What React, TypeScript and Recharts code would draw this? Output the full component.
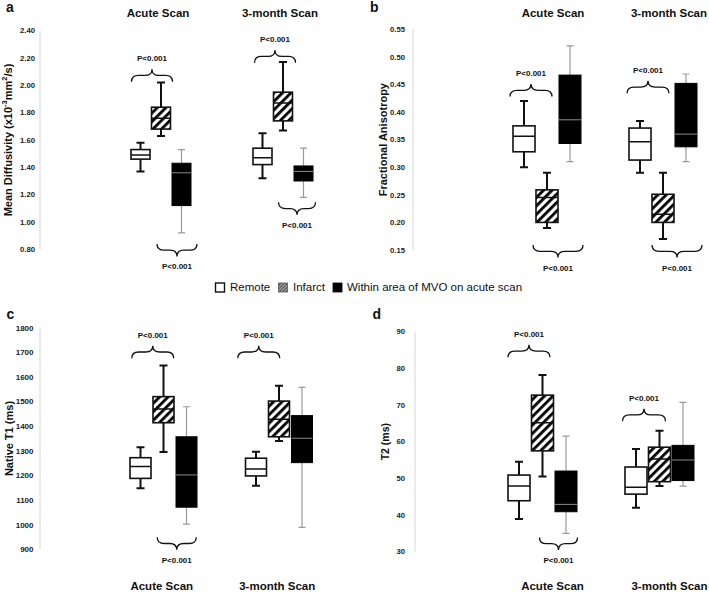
import React from 'react';
import { BarChart, Bar, XAxis, YAxis, ReferenceDot } from 'recharts';

const FONT = '"Liberation Sans", Arial, Helvetica, sans-serif';

// categories
const scans = ['Acute Scan', '3-month Scan'];
const legendLabels = ['Remote', 'Infarct', 'Within area of MVO on acute scan'];
const pLabel = 'P<0.001';

// box values per scan: [min, q1, median, q3, max]
// a) Mean diffusivity
const mdRemote = [[1.37, 1.46, 1.49, 1.53, 1.58], [1.32, 1.42, 1.47, 1.54, 1.65]];
const mdInfarct = [[1.63, 1.68, 1.76, 1.84, 2.02], [1.67, 1.74, 1.87, 1.95, 2.17]];
const mdMvo = [[0.92, 1.12, 1.36, 1.43, 1.53], [1.18, 1.3, 1.37, 1.41, 1.54]];
const mdTicks = [0.8, 1.0, 1.2, 1.4, 1.6, 1.8, 2.0, 2.2, 2.4];

// b) Fractional anisotropy
const faRemote = [[0.3, 0.328, 0.356, 0.375, 0.42], [0.29, 0.313, 0.346, 0.371, 0.384]];
const faInfarct = [[0.19, 0.2, 0.245, 0.259, 0.29], [0.17, 0.2, 0.215, 0.251, 0.29]];
const faMvo = [[0.31, 0.343, 0.386, 0.467, 0.52], [0.31, 0.337, 0.36, 0.452, 0.469]];
const faTicks = [0.15, 0.2, 0.25, 0.3, 0.35, 0.4, 0.45, 0.5, 0.55];

// c) Native T1
const t1Remote = [[1148, 1188, 1236, 1272, 1314], [1158, 1198, 1226, 1270, 1296]];
const t1Infarct = [[1295, 1414, 1470, 1520, 1646], [1340, 1357, 1428, 1502, 1564]];
const t1Mvo = [[1002, 1071, 1202, 1357, 1479], [989, 1252, 1351, 1443, 1558]];
const t1Ticks = [900, 1000, 1100, 1200, 1300, 1400, 1500, 1600, 1700, 1800];

// d) T2
const t2Remote = [[38.9, 43.9, 47.9, 50.9, 54.5], [42.0, 45.7, 47.6, 53.1, 58.0]];
const t2Infarct = [[50.5, 57.5, 65.2, 72.7, 78.2], [47.9, 49.1, 55.3, 58.5, 63.0]];
const t2Mvo = [[35.0, 40.9, 42.9, 52.0, 61.5], [47.9, 49.4, 55.0, 59.0, 70.7]];
const t2Ticks = [30, 40, 50, 60, 70, 80, 90];

// significance brackets: [scan index, value at bracket ends]
const mdSig = [[0, 2.027], [1, 2.166], [0, 0.839], [1, 1.144]];
const faSig = [[0, 0.428], [1, 0.434], [0, 0.159], [1, 0.159]];
const t1Sig = [[0, 1676], [1, 1676], [0, 949]];
const t2Sig = [[0, 83.0], [1, 65.6], [0, 33.9]];

function buildRows(remote: number[][], infarct: number[][], mvo: number[][]) {
  return scans.map((scan, i) => ({ scan, remote: remote[i], infarct: infarct[i], mvo: mvo[i] }));
}

const STYLES: any = {
  remote: { fill: '#ffffff', stroke: '#111', boxW: 1.6, med: '#111', medW: 1.5, wh: '#111', whW: 2, cap: 8 },
  infarct: { fill: 'url(#hatch)', stroke: '#111', boxW: 1.6, med: '#111', medW: 1.5, wh: '#111', whW: 2, cap: 8 },
  mvo: { fill: '#000', stroke: '#000', boxW: 1, med: '#8a8a8a', medW: 1, wh: '#9a9a9a', whW: 1.2, cap: 7 },
};

function boxShape(key: string) {
  const st = STYLES[key];
  return (props: any) => {
    const { x, y, width, height, payload } = props;
    const v = payload && payload[key];
    if (!v || x == null) return <g />;
    const [mn, q1, md, q3, mx] = v;
    const top = Math.min(y, y + height);
    const h = Math.abs(height);
    const k = h / (q3 - q1);
    const py = (val: number) => top + h - (val - q1) * k;
    const cx = x + width / 2;
    return (
      <g>
        <line x1={cx} x2={cx} y1={py(mx)} y2={top} stroke={st.wh} strokeWidth={st.whW} />
        <line x1={cx} x2={cx} y1={top + h} y2={py(mn)} stroke={st.wh} strokeWidth={st.whW} />
        <line x1={cx - st.cap / 2} x2={cx + st.cap / 2} y1={py(mx)} y2={py(mx)} stroke={st.wh} strokeWidth={st.whW} />
        <line x1={cx - st.cap / 2} x2={cx + st.cap / 2} y1={py(mn)} y2={py(mn)} stroke={st.wh} strokeWidth={st.whW} />
        <rect x={x} y={top} width={width} height={h} fill={st.fill} stroke={st.stroke} strokeWidth={st.boxW} />
        <line x1={x} x2={x + width} y1={py(md)} y2={py(md)} stroke={st.med} strokeWidth={st.medW} />
      </g>
    );
  };
}

function Brace(props: any) {
  const { cx, cy, dx, w, dir } = props;
  if (cx == null || cy == null || isNaN(cx) || isNaN(cy)) return <g />;
  const s = dir === 'up' ? -1 : 1;
  const xc = cx + dx;
  const x0 = xc - w / 2;
  const x1 = xc + w / 2;
  const h = 12.5;
  const m = cy + (s * h) / 2;
  const tip = cy + s * h;
  const q = 7;
  const d = `M${x0},${cy} Q${x0},${m} ${x0 + q},${m} L${xc - q},${m} Q${xc},${m} ${xc},${tip} Q${xc},${m} ${xc + q},${m} L${x1 - q},${m} Q${x1},${m} ${x1},${cy}`;
  return (
    <g>
      <path d={d} fill="none" stroke="#111" strokeWidth={1.3} />
      <text x={xc} y={tip + s * 10.5} textAnchor="middle" dominantBaseline="central" fontSize={8} fontWeight={700} fontFamily={FONT} fill="#111">
        {pLabel}
      </text>
    </g>
  );
}

function mdTitle(size: number) {
  return (
    <>
      <tspan>Mean Diffusivity (x10</tspan>
      <tspan dy={-4} fontSize={size * 0.68}>-3</tspan>
      <tspan dy={4}>mm</tspan>
      <tspan dy={-4} fontSize={size * 0.68}>2</tspan>
      <tspan dy={4}>/s)</tspan>
    </>
  );
}

const panels: any[] = [
  {
    id: 'a', left: 0, top: 0, width: 344, height: 280,
    margin: { top: 0, right: 0, bottom: 30.7, left: 0 },
    xOrient: 'top', xHeight: 30.7, padLeft: 60, yWidth: 40,
    domain: [0.8, 2.4], ticks: mdTicks, fmt: (v: number) => v.toFixed(2), tickMargin: 5, tickFont: 7.7,
    barSize: 19, barGap: 1.5, tickDy: -14, tickDx: -3,
    titleX: 8, titleSize: 11, title: mdTitle(11),
    data: buildRows(mdRemote, mdInfarct, mdMvo),
    sig: mdSig,
    braces: [
      { dir: 'up', dx: -9, w: 41 }, { dir: 'up', dx: -8, w: 41 },
      { dir: 'down', dx: 16, w: 40 }, { dir: 'down', dx: 14, w: 37 },
    ],
  },
  {
    id: 'b', left: 350, top: 0, width: 371, height: 280,
    margin: { top: 0, right: 0, bottom: 30, left: 0 },
    xOrient: 'top', xHeight: 29.3, padLeft: 76, yWidth: 63,
    domain: [0.15, 0.55], ticks: faTicks, fmt: (v: number) => v.toFixed(2), tickMargin: 8, tickFont: 7.7,
    barSize: 22, barGap: 1, tickDy: -12.6, tickDx: 6,
    titleX: 33, titleSize: 11, title: 'Fractional Anisotropy',
    data: buildRows(faRemote, faInfarct, faMvo),
    sig: faSig,
    braces: [
      { dir: 'up', dx: -16, w: 42 }, { dir: 'up', dx: -15, w: 42 },
      { dir: 'down', dx: 11, w: 50 }, { dir: 'down', dx: 14, w: 50 },
    ],
  },
  {
    id: 'c', left: 0, top: 300, width: 337, height: 292,
    margin: { top: 27.7, right: 0, bottom: 0, left: 0 },
    xOrient: 'bottom', xHeight: 42.7, padLeft: 66, yWidth: 40,
    domain: [900, 1800], ticks: t1Ticks, fmt: (v: number) => String(v), tickMargin: 6.5, tickFont: 8,
    barSize: 21, barGap: 2, tickDy: 40.7, tickDx: -2,
    titleX: 8.5, titleSize: 11, title: 'Native T1 (ms)',
    data: buildRows(t1Remote, t1Infarct, t1Mvo),
    sig: t1Sig,
    braces: [
      { dir: 'up', dx: -11, w: 42 }, { dir: 'up', dx: -20.5, w: 42 },
      { dir: 'down', dx: 13, w: 39 },
    ],
  },
  {
    id: 'd', left: 350, top: 300, width: 368, height: 292,
    margin: { top: 31.7, right: 0, bottom: 0, left: 0 },
    xOrient: 'bottom', xHeight: 40.3, padLeft: 69, yWidth: 65,
    domain: [30, 90], ticks: t2Ticks, fmt: (v: number) => String(v), tickMargin: 10, tickFont: 7.7,
    barSize: 22, barGap: 1.5, tickDy: 38.3, tickDx: 10,
    titleX: 35, titleSize: 10.5, title: 'T2 (ms)',
    data: buildRows(t2Remote, t2Infarct, t2Mvo),
    sig: t2Sig,
    braces: [
      { dir: 'up', dx: -13.5, w: 42 }, { dir: 'up', dx: -15.5, w: 43 },
      { dir: 'down', dx: 16, w: 38 },
    ],
  },
];

function Panel({ cfg }: { cfg: any }) {
  return (
    <div style={{ position: 'absolute', left: cfg.left, top: cfg.top }}>
      <BarChart
        width={cfg.width}
        height={cfg.height}
        data={cfg.data}
        margin={cfg.margin}
        barSize={cfg.barSize}
        barGap={cfg.barGap}
      >
        <XAxis
          dataKey="scan"
          orientation={cfg.xOrient}
          height={cfg.xHeight}
          padding={{ left: cfg.padLeft, right: 0 }}
          axisLine={false}
          tickLine={false}
          tickSize={0}
          tickMargin={0}
          interval={0}
          tick={(p: any) => (
            <text
              x={p.x + cfg.tickDx}
              y={p.y + cfg.tickDy}
              textAnchor="middle"
              fontSize={11.5}
              fontWeight={700}
              fontFamily={FONT}
              fill="#111"
            >
              {p.payload.value}
            </text>
          )}
        />
        <YAxis
          type="number"
          domain={cfg.domain}
          ticks={cfg.ticks}
          width={cfg.yWidth}
          interval={0}
          allowDataOverflow
          axisLine={{ stroke: '#d6d6d6', strokeWidth: 1 }}
          tickLine={false}
          tickSize={0}
          tickMargin={cfg.tickMargin}
          tickFormatter={cfg.fmt}
          tick={{ fontSize: cfg.tickFont, fontWeight: 700, fill: '#222', fontFamily: FONT }}
          label={{
            position: 'insideLeft',
            content: (lp: any) => {
              const vb = lp && lp.viewBox;
              if (!vb) return null;
              const X = vb.x + cfg.titleX;
              const Y = vb.y + vb.height / 2;
              return (
                <text
                  x={X}
                  y={Y}
                  transform={`rotate(-90, ${X}, ${Y})`}
                  textAnchor="middle"
                  dominantBaseline="central"
                  fontSize={cfg.titleSize}
                  fontWeight={700}
                  fontFamily={FONT}
                  fill="#111"
                >
                  {cfg.title}
                </text>
              );
            },
          }}
        />
        <Bar dataKey={(d: any) => [d.remote[1], d.remote[3]]} shape={boxShape('remote')} isAnimationActive={false} />
        <Bar dataKey={(d: any) => [d.infarct[1], d.infarct[3]]} shape={boxShape('infarct')} isAnimationActive={false} />
        <Bar dataKey={(d: any) => [d.mvo[1], d.mvo[3]]} shape={boxShape('mvo')} isAnimationActive={false} />
        {cfg.sig.map((s: number[], i: number) => {
          const b = cfg.braces[i];
          return (
            <ReferenceDot
              key={i}
              x={scans[s[0]]}
              y={s[1]}
              r={0}
              shape={(p: any) => <Brace cx={p.cx} cy={p.cy} dx={b.dx} w={b.w} dir={b.dir} />}
            />
          );
        })}
      </BarChart>
    </div>
  );
}

export default function App() {
  return (
    <div
      style={{
        position: 'absolute',
        left: 0,
        top: 0,
        width: 709,
        height: 592,
        overflow: 'hidden',
        background: '#fff',
        fontFamily: FONT,
      }}
    >
      <svg width={0} height={0} style={{ position: 'absolute' }}>
        <defs>
          <pattern id="hatch" width="6" height="6" patternUnits="userSpaceOnUse" patternTransform="rotate(45)">
            <rect width="6" height="6" fill="#fff" />
            <rect width="2.8" height="6" fill="#000" />
          </pattern>
          <pattern id="hatchSmall" width="2.4" height="2.4" patternUnits="userSpaceOnUse" patternTransform="rotate(45)">
            <rect width="2.4" height="2.4" fill="#b0b0b0" />
            <rect width="1.1" height="2.4" fill="#444" />
          </pattern>
        </defs>
      </svg>
      {panels.map((cfg) => (
        <Panel key={cfg.id} cfg={cfg} />
      ))}
      <svg width={709} height={592} style={{ position: 'absolute', left: 0, top: 0, pointerEvents: 'none' }}>
        <g fontFamily={FONT} fontWeight={700} fontSize={14} fill="#111">
          <text x={6} y={11.5}>a</text>
          <text x={370} y={12}>b</text>
          <text x={6.5} y={318.5}>c</text>
          <text x={372.5} y={318.5}>d</text>
        </g>
        <g fontFamily={FONT} fontSize={11.5} fill="#111">
          <rect x={215.5} y={283} width={9} height={9} fill="#fff" stroke="#111" strokeWidth={1.4} />
          <text x={230} y={290.8}>{legendLabels[0]}</text>
          <rect x={278.5} y={283} width={9} height={9} fill="url(#hatchSmall)" stroke="#555" strokeWidth={0.8} />
          <text x={293} y={290.8}>{legendLabels[1]}</text>
          <rect x={333} y={283} width={9} height={9} fill="#000" stroke="#000" strokeWidth={0.8} />
          <text x={347} y={290.8}>{legendLabels[2]}</text>
        </g>
      </svg>
    </div>
  );
}
